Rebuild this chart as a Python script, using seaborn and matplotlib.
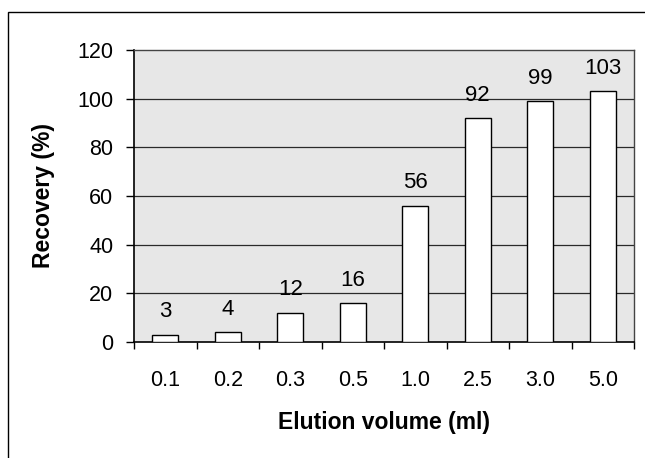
import matplotlib
matplotlib.use("Agg")
import matplotlib.pyplot as plt
import seaborn as sns
import pandas as pd
from matplotlib.patches import Rectangle

categories = ["0.1", "0.2", "0.3", "0.5", "1.0", "2.5", "3.0", "5.0"]
recovery = [3, 4, 12, 16, 56, 92, 99, 103]
yticks = [0, 20, 40, 60, 80, 100, 120]

sns.set_theme(style="white")
plt.rcParams['font.family'] = ['Liberation Sans', 'DejaVu Sans']
plt.rcParams.update({"text.color": "black", "axes.labelcolor": "black",
                     "xtick.color": "black", "ytick.color": "black"})

df = pd.DataFrame({"Elution volume (ml)": categories, "Recovery (%)": recovery})

fig = plt.figure(figsize=(6.45, 4.58), dpi=100)
W, H = 645, 458
ax = fig.add_axes([134 / W, 1 - 342 / H, (634 - 134) / W, (342 - 50) / H])
ax.set_facecolor("#e7e7e7")

sns.barplot(data=df, x="Elution volume (ml)", y="Recovery (%)", order=categories,
            color="white", edgecolor="black", linewidth=1.0, width=0.42,
            saturation=1, ax=ax, zorder=3)

ax.set_ylim(0, 120)
ax.set_xlim(-0.5, len(categories) - 0.5)
ax.set_yticks(yticks)
ax.set_yticklabels([str(v) for v in yticks])
for v in yticks[1:-1]:
    ax.axhline(v, color="#2a2a2a", linewidth=0.9, zorder=1)

# value labels
for i, v in enumerate(recovery):
    ax.annotate(str(v), (i, v), xytext=(0, 9), textcoords="offset points",
                ha="center", va="bottom", fontsize=16, color="black")

# ticks
ax.tick_params(axis="y", which="major", direction="out", length=5.8, width=1,
               color="black", labelcolor="black", labelsize=15.5, pad=9, left=True)
ax.tick_params(axis="x", which="major", length=0, labelsize=15.5, pad=20,
               labelcolor="black")
ax.set_xticks([i - 0.5 for i in range(len(categories) + 1)], minor=True)
ax.tick_params(axis="x", which="minor", direction="out", length=5, width=1,
               color="black", bottom=True)

for s in ["left", "bottom"]:
    ax.spines[s].set_color("black")
    ax.spines[s].set_linewidth(1.2)
for s in ["top", "right"]:
    ax.spines[s].set_color("#444444")
    ax.spines[s].set_linewidth(1.0)
    ax.spines[s].set_visible(True)

ax.set_xlabel("Elution volume (ml)", fontsize=16.5, fontweight="bold", color="black")
ax.set_ylabel("Recovery (%)", fontsize=16.5, fontweight="bold", color="black")
ax.xaxis.set_label_coords(0.5, -0.235)
ax.yaxis.set_label_coords(-0.158, 0.5)

# outer chart border (clipped at right and bottom like the reference)
fig.patches.append(Rectangle((7.5 / W, -0.05), 1.2, 1 - 11.5 / H + 0.05,
                             transform=fig.transFigure, fill=False,
                             edgecolor="black", linewidth=1.0))

fig.savefig("out.png", dpi=100)
